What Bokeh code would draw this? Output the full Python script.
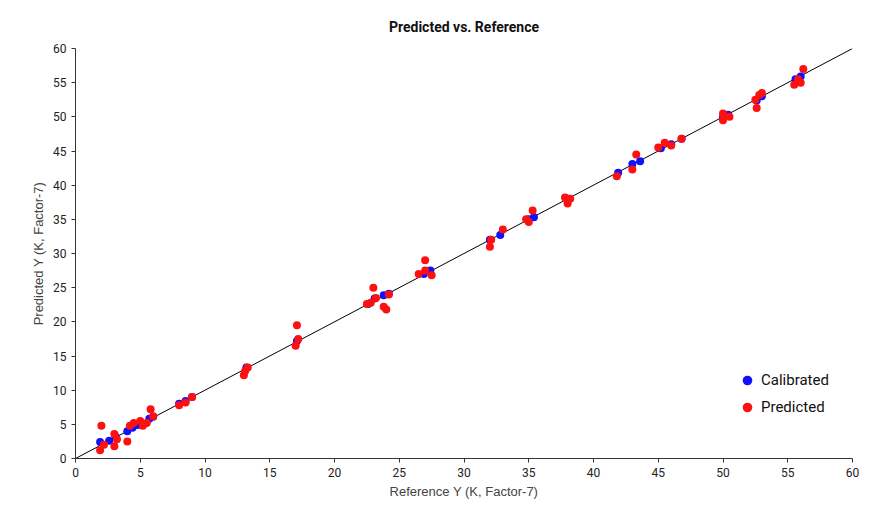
from bokeh.plotting import figure
from bokeh.models import Range1d, Legend, LegendItem, FixedTicker
from bokeh.embed import file_html
from bokeh.resources import INLINE

# Calibrated (blue) points
cal_x = [1.9, 2.6, 3.1, 4.0, 4.4, 4.8, 5.2, 5.7, 6.0, 8.0, 8.5, 9.0, 13.2, 17.1, 22.6, 23.1, 23.8, 24.2,
         26.9, 27.4, 32.0, 32.8, 35.0, 35.4, 38.0, 41.9, 43.0, 43.6, 45.2, 46.0, 46.8, 50.0, 50.4,
         52.6, 53.0, 55.6, 56.0]
cal_y = [2.4, 2.6, 3.2, 4.0, 4.5, 4.9, 5.1, 5.8, 6.1, 8.0, 8.4, 9.0, 13.3, 17.2, 22.6, 23.4, 23.9, 24.1,
         27.0, 27.5, 32.0, 32.7, 35.0, 35.3, 38.0, 41.8, 43.1, 43.5, 45.4, 46.0, 46.8, 49.9, 50.3,
         52.4, 53.0, 55.5, 55.9]

# Predicted (red) points
pred_x = [2.0, 1.9, 2.2, 3.0, 3.0, 3.2, 4.0, 4.2, 4.5, 5.0, 5.2, 5.5, 5.8, 6.0, 8.0, 8.5, 9.0,
          13.0, 13.1, 13.3, 17.0, 17.1, 17.2, 22.5, 22.8, 23.0, 23.2, 23.8, 24.0, 24.2,
          26.5, 27.0, 27.0, 27.5, 32.0, 32.1, 33.0, 34.8, 35.0, 35.3, 37.8, 38.0, 38.2,
          41.8, 43.0, 43.3, 45.0, 45.5, 46.0, 46.8, 50.0, 50.0, 50.5, 52.5, 52.6, 52.8, 53.0,
          55.5, 55.8, 56.0, 56.2]
pred_y = [4.8, 1.2, 2.0, 3.6, 1.8, 2.8, 2.5, 4.8, 5.2, 5.5, 4.8, 5.2, 7.2, 6.2, 7.8, 8.2, 9.0,
          12.2, 12.8, 13.3, 16.5, 19.5, 17.5, 22.6, 22.8, 25.0, 23.5, 22.2, 21.8, 24.0,
          27.0, 29.0, 27.5, 26.8, 31.0, 32.0, 33.5, 35.0, 34.6, 36.3, 38.2, 37.3, 38.0,
          41.3, 42.3, 44.5, 45.5, 46.2, 45.8, 46.8, 50.5, 49.5, 50.0, 52.5, 51.3, 53.2, 53.5,
          54.7, 55.5, 55.0, 57.0]

line_x = [0, 60]
line_y = [0, 60]
ticks = [0, 5, 10, 15, 20, 25, 30, 35, 40, 45, 50, 55, 60]

p = figure(width=873, height=518, output_backend="svg", toolbar_location=None,
           x_range=Range1d(0, 60), y_range=Range1d(0, 60),
           min_border_left=75, min_border_right=21, min_border_top=48, min_border_bottom=60,
           title="Predicted vs. Reference")
p.title.align = "center"
p.title.text_font = "Roboto"
p.title.text_font_size = "14px"
p.title.text_font_style = "bold"
p.title.text_color = "#111111"
p.title.standoff = 28
p.outline_line_color = None
p.xgrid.visible = False
p.ygrid.visible = False

for ax in (p.xaxis[0], p.yaxis[0]):
    ax.ticker = FixedTicker(ticks=ticks)
    ax.minor_tick_line_color = None
    ax.major_tick_in = 0
    ax.major_tick_out = 4
    ax.axis_line_color = "#333333"
    ax.major_tick_line_color = "#333333"
    ax.major_label_text_font = "Roboto"
    ax.major_label_text_font_size = "12px"
    ax.major_label_text_color = "#222222"
    ax.axis_label_text_font = "Liberation Sans"
    ax.axis_label_text_font_size = "13px"
    ax.axis_label_text_font_style = "normal"
    ax.axis_label_text_color = "#444444"
    ax.axis_label_standoff = 4

p.xaxis.axis_label = "Reference Y (K, Factor-7)"
p.yaxis.axis_label = "Predicted Y (K, Factor-7)"

p.line(line_x, line_y, line_color="black", line_width=1)
r_cal = p.scatter(cal_x, cal_y, size=8, fill_color="#1010ff", line_color=None)
r_pred = p.scatter(pred_x, pred_y, size=8, fill_color="#ff1010", line_color=None)

legend = Legend(items=[LegendItem(label="Calibrated", renderers=[r_cal]),
                       LegendItem(label="Predicted", renderers=[r_pred])],
                location=(660, 39), border_line_color=None, background_fill_alpha=0,
                label_text_font="Roboto", label_text_font_size="15px",
                label_text_color="#111111",
                glyph_width=24, glyph_height=24, spacing=3, label_standoff=2)
p.add_layout(legend, "center")

open("out.html", "w").write(file_html(p, INLINE))
